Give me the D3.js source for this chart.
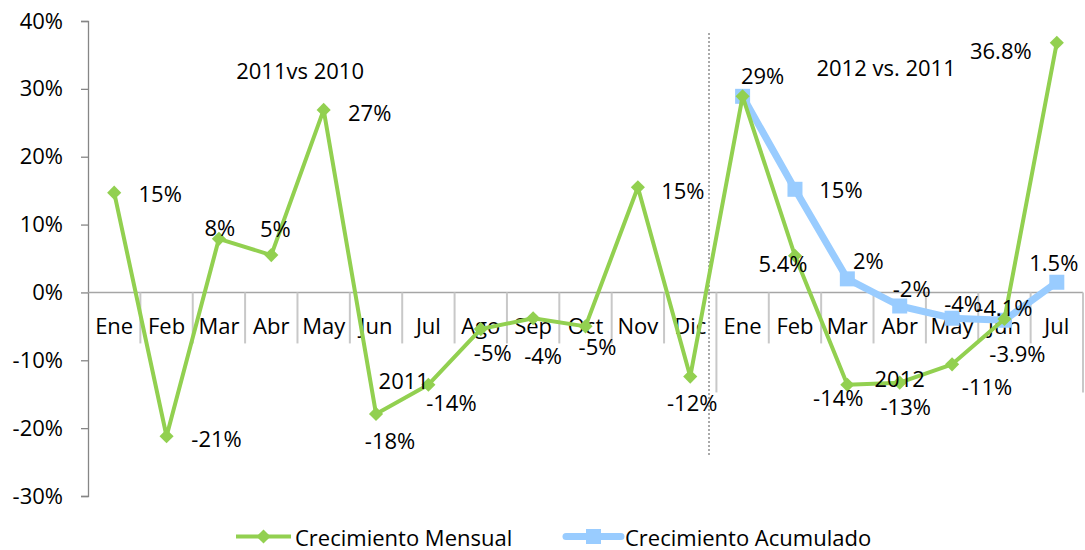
<!DOCTYPE html>
<html><head><meta charset="utf-8">
<script src="https://cdn.jsdelivr.net/npm/d3@7"></script>
<style>
body{margin:0;background:#fff;}
svg text{font-family:"Open Sans","Noto Sans",sans-serif;fill:#000;}
</style></head>
<body><svg id="c" width="1085" height="550"></svg>
<script>
const categories = ["Ene","Feb","Mar","Abr","May","Jun","Jul","Ago","Sep","Oct","Nov","Dic","Ene","Feb","Mar","Abr","May","Jun","Jul"];
const mensual = [14.7,-21.2,7.9,5.5,26.9,-17.9,-13.6,-5.4,-3.8,-5.0,15.5,-12.4,28.9,5.4,-13.6,-13.3,-10.6,-3.9,36.8];
const acumulado = [null,null,null,null,null,null,null,null,null,null,null,null,28.9,15.2,2.0,-2.0,-3.8,-4.1,1.5];
const mensualLabels = ["15%","-21%","8%","5%","27%","-18%","-14%","-5%","-4%","-5%","15%","-12%","29%","5.4%","-14%","-13%","-11%","-3.9%","36.8%"];
const acumuladoLabels = [null,null,null,null,null,null,null,null,null,null,null,null,"29%","15%","2%","-2%","-4%","-4.1%","1.5%"];
const yTicks = [-30,-20,-10,0,10,20,30,40];
const seriesNames = ["Crecimiento Mensual","Crecimiento Acumulado"];
const annotations = [
  {text:"2011vs 2010", i:3.55, v:32.8},
  {text:"2012 vs. 2011", i:14.74, v:33.2},
  {text:"2011", i:5.53, v:-12.9},
  {text:"2012", i:15.0, v:-12.6}
];

const FS = "22px";
// label offsets (dx,dy) in px relative to the point
const mOff = [[46,0],[50,2],[1,-12],[4,-27],[46,2],[14,26],[23,17],[12,23],[10,37],[12,20],[45,3],[2,25],[20,-21],[-12,7],[-9,12],[6,23],[35,22],[13,34],[-56,7]];
const aOff = [null,null,null,null,null,null,null,null,null,null,null,null,[20,-21],[46,0],[21,-19],[12,-18],[11,-15],[0,-13],[-3,-20]];

const svg = d3.select("#c");
const x = d3.scaleBand().domain(d3.range(categories.length)).range([88,1083]).padding(0);
const y = d3.scaleLinear().domain([-30,40]).range([496,21]);
const cx = i => x(i) + x.bandwidth()/2;

// y axis
const yAxis = svg.append("g").attr("transform","translate(88,0)")
  .call(d3.axisLeft(y).tickValues(yTicks).tickFormat(d=>d+"%").tickSize(7).tickPadding(18));
yAxis.select(".domain").attr("stroke","#868686").attr("stroke-width",1.3);
yAxis.selectAll(".tick line").attr("stroke","#868686").attr("stroke-width",1.3);
yAxis.selectAll(".tick text").style("font-size",FS).attr("fill","#000");

// category axis at zero
const y0 = y(0);
const xAxis = svg.append("g").attr("transform",`translate(0,${y0})`);
xAxis.append("line").attr("x1",88).attr("x2",1083).attr("stroke","#a6a6a6").attr("stroke-width",1.5);
const bounds = d3.range(1, categories.length+1);
xAxis.selectAll("line.sep").data(bounds).join("line").attr("class","sep")
  .attr("x1",d=> d===categories.length ? 1083 : x(d)).attr("x2",d=> d===categories.length ? 1083 : x(d))
  .attr("y1",0).attr("y2",d=> (d===12||d===categories.length)?100:51)
  .attr("stroke","#c8c8c8").attr("stroke-width",2);
xAxis.selectAll("text.cat").data(categories).join("text").attr("class","cat")
  .attr("x",(d,i)=>cx(i)).attr("y",42).attr("text-anchor","middle").style("font-size",FS).text(d=>d);

// dotted divider
svg.append("line").attr("x1",709).attr("x2",709).attr("y1",33).attr("y2",455)
  .attr("stroke","#555").attr("stroke-width",1).attr("stroke-dasharray","2,2");

const green = "#92D050", blue = "#99CCFF";
const line = d3.line().defined(d=>d.v!==null).x(d=>cx(d.i)).y(d=>y(d.v));
const mData = mensual.map((v,i)=>({i,v}));
const aData = acumulado.map((v,i)=>({i,v}));

svg.append("path").datum(aData).attr("d",line).attr("fill","none").attr("stroke",blue).attr("stroke-width",7).attr("stroke-linejoin","round");
svg.selectAll("rect.am").data(aData.filter(d=>d.v!==null)).join("rect").attr("class","am")
  .attr("x",d=>cx(d.i)-7.5).attr("y",d=>y(d.v)-7.5).attr("width",15).attr("height",15).attr("fill",blue);

svg.append("path").datum(mData).attr("d",line).attr("fill","none").attr("stroke",green).attr("stroke-width",4).attr("stroke-linejoin","round");
const diamond = d3.symbol().type(d3.symbolSquare).size(100);
svg.selectAll("path.mm").data(mData).join("path").attr("class","mm")
  .attr("d",diamond).attr("transform",d=>`translate(${cx(d.i)},${y(d.v)}) rotate(45)`).attr("fill",green);

// data labels
svg.selectAll("text.ml").data(mData).join("text").attr("class","ml")
  .attr("x",d=>cx(d.i)+mOff[d.i][0]).attr("y",d=>y(d.v)+mOff[d.i][1])
  .attr("text-anchor","middle").attr("dominant-baseline","central").style("font-size",FS)
  .text(d=>mensualLabels[d.i]);
svg.selectAll("text.al").data(aData.filter(d=>d.v!==null && d.i!==12)).join("text").attr("class","al")
  .attr("x",d=>cx(d.i)+aOff[d.i][0]).attr("y",d=>y(d.v)+aOff[d.i][1])
  .attr("text-anchor","middle").attr("dominant-baseline","central").style("font-size",FS)
  .text(d=>acumuladoLabels[d.i]);

// annotations
svg.selectAll("text.ann").data(annotations).join("text").attr("class","ann")
  .attr("x",d=>x(Math.floor(d.i)) + (d.i%1+0.5)*x.bandwidth()).attr("y",d=>y(d.v))
  .attr("text-anchor","middle").attr("dominant-baseline","central").style("font-size",FS).text(d=>d.text);

// legend
const lg = svg.append("g");
const ly = 536.5;
lg.append("line").attr("x1",236).attr("x2",291).attr("y1",ly).attr("y2",ly).attr("stroke",green).attr("stroke-width",4);
lg.append("path").attr("d",diamond).attr("transform",`translate(263.5,${ly}) rotate(45)`).attr("fill",green);
lg.append("text").attr("x",295).attr("y",ly).attr("dominant-baseline","central").style("font-size",FS).text(seriesNames[0]);
lg.append("line").attr("x1",566).attr("x2",621).attr("y1",ly).attr("y2",ly).attr("stroke",blue).attr("stroke-width",7).attr("stroke-linecap","round");
lg.append("rect").attr("x",586).attr("y",ly-7.5).attr("width",15).attr("height",15).attr("fill",blue);
lg.append("text").attr("x",625).attr("y",ly).attr("dominant-baseline","central").style("font-size",FS).text(seriesNames[1]);
</script></body></html>
